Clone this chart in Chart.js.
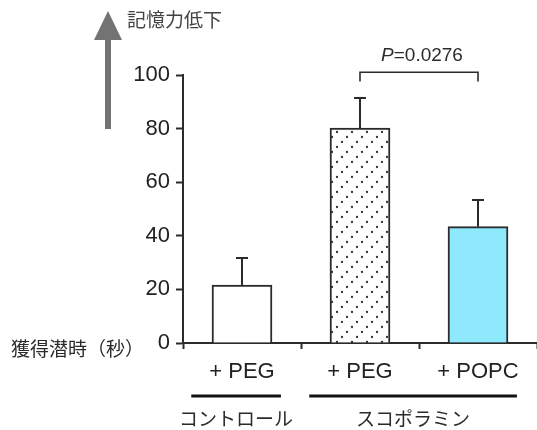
<!DOCTYPE html>
<html>
<head>
<meta charset="utf-8">
<script src="https://cdn.jsdelivr.net/npm/chart.js@4"></script>
<style>
  body { margin: 0; background: #fff; }
  #wrap { width: 537px; height: 430px; }
</style>
</head>
<body>
<div id="wrap"><canvas id="chart"></canvas></div>
<script>
const categories = ['+ PEG', '+ PEG', '+ POPC'];
const means = [21.6, 80.2, 43.4];
const errors = [10.1, 11.2, 10.0];
const groups = [
  { label: 'コントロール', from: 0, to: 0 },
  { label: 'スコポラミン', from: 1, to: 2 }
];
const yTicks = [0, 20, 40, 60, 80, 100];
const pText = 'P=0.0276';

const jp = '"Noto Sans CJK JP", sans-serif';
const latin = '"Liberation Sans", Arial, sans-serif';
const ink = '#2b2b2b';

// dotted diagonal fill for the scopolamine + PEG bar
function dotPattern() {
  const c = document.createElement('canvas');
  c.width = 15; c.height = 15;
  const g = c.getContext('2d');
  g.fillStyle = '#fff';
  g.fillRect(0, 0, 15, 15);
  g.fillStyle = '#333';
  [[2, 2], [7, 12], [12, 7]].forEach(([x, y]) => {
    g.beginPath(); g.arc(x, y, 1.15, 0, Math.PI * 2); g.fill();
  });
  return g.createPattern(c, 'repeat');
}

const extras = {
  id: 'extras',
  afterDatasetsDraw(chart) {
    const { ctx } = chart;
    const x = chart.scales.x, y = chart.scales.y;
    const cw = x.getPixelForValue(1) - x.getPixelForValue(0);
    ctx.save();
    ctx.strokeStyle = ink;
    ctx.lineWidth = 2;

    // error bars (upper only)
    means.forEach((m, i) => {
      const px = x.getPixelForValue(i);
      const top = y.getPixelForValue(m + errors[i]);
      ctx.beginPath();
      ctx.moveTo(px, y.getPixelForValue(m));
      ctx.lineTo(px, top);
      ctx.moveTo(px - 6, top);
      ctx.lineTo(px + 6, top);
      ctx.stroke();
    });

    // significance bracket
    const bx1 = x.getPixelForValue(1), bx2 = x.getPixelForValue(2);
    const by = y.getPixelForValue(101), byl = y.getPixelForValue(97.6);
    ctx.lineWidth = 1.6;
    ctx.beginPath();
    ctx.moveTo(bx1, byl); ctx.lineTo(bx1, by); ctx.lineTo(bx2, by); ctx.lineTo(bx2, byl);
    ctx.stroke();
    ctx.fillStyle = ink;
    ctx.textBaseline = 'middle';
    ctx.font = 'italic 19px ' + latin;
    const pw = ctx.measureText('P').width;
    ctx.font = '19px ' + latin;
    const rest = pText.slice(1);
    const tw = pw + ctx.measureText(rest).width;
    const tx = (bx1 + bx2) / 2 - tw / 2 + 3, ty = y.getPixelForValue(107.3);
    ctx.textAlign = 'left';
    ctx.font = 'italic 19px ' + latin;
    ctx.fillText('P', tx, ty);
    ctx.font = '19px ' + latin;
    ctx.fillText(rest, tx + pw, ty);

    // group underlines and labels
    groups.forEach(gr => {
      const l = x.getPixelForValue(gr.from) - 0.43 * cw;
      const r = x.getPixelForValue(gr.to) + 0.33 * cw;
      ctx.lineWidth = 3;
      ctx.strokeStyle = '#111';
      ctx.beginPath();
      ctx.moveTo(l, 396); ctx.lineTo(r, 396);
      ctx.stroke();
      ctx.font = '19px ' + jp;
      ctx.textAlign = 'center';
      ctx.fillText(gr.label, (l + r) / 2, 419);
    });

    // y title next to the zero tick
    ctx.font = '19px ' + jp;
    ctx.textAlign = 'left';
    ctx.fillText('獲得潜時（秒）', 11, y.getPixelForValue(0) + 6);

    // "memory decline" arrow
    const ax = 108;
    ctx.strokeStyle = '#737373';
    ctx.fillStyle = '#737373';
    ctx.lineWidth = 6;
    ctx.beginPath();
    ctx.moveTo(ax, 129); ctx.lineTo(ax, 36);
    ctx.stroke();
    ctx.beginPath();
    ctx.moveTo(ax, 11); ctx.lineTo(ax - 14, 40); ctx.lineTo(ax + 14, 40);
    ctx.closePath();
    ctx.fill();
    ctx.fillStyle = '#444';
    ctx.font = '19px ' + jp;
    ctx.fillText('記憶力低下', 127, 20);
    ctx.restore();
  }
};

new Chart(document.getElementById('chart'), {
  type: 'bar',
  data: {
    labels: categories,
    datasets: [{
      data: means,
      backgroundColor: ['#ffffff', dotPattern(), '#8fe9fd'],
      borderColor: ink,
      borderWidth: 2,
      borderSkipped: 'start',
      barThickness: 60
    }]
  },
  options: {
    responsive: true,
    maintainAspectRatio: false,
    animation: false,
    layout: { padding: { top: 75, right: -4, left: 0, bottom: 0 } },
    plugins: { legend: { display: false }, tooltip: { enabled: false } },
    scales: {
      x: {
        grid: { display: true, drawOnChartArea: false, drawTicks: true, tickLength: 6, tickColor: ink, tickWidth: 2, offset: true },
        border: { color: ink, width: 2 },
        ticks: { color: '#222', font: { family: latin, size: 22 }, padding: 10 },
        afterFit: s => { s.height = 430 - 343; }
      },
      y: {
        min: 0,
        max: 100,
        afterBuildTicks: s => { s.ticks = yTicks.map(v => ({ value: v })); },
        grid: { drawOnChartArea: false, drawTicks: true, tickLength: 7, tickColor: ink, tickWidth: 2 },
        border: { color: ink, width: 2 },
        ticks: { color: '#222', font: { family: latin, size: 22 }, padding: 6 },
        afterFit: s => { s.width = 183; }
      }
    }
  },
  plugins: [extras]
});
</script>
</body>
</html>
